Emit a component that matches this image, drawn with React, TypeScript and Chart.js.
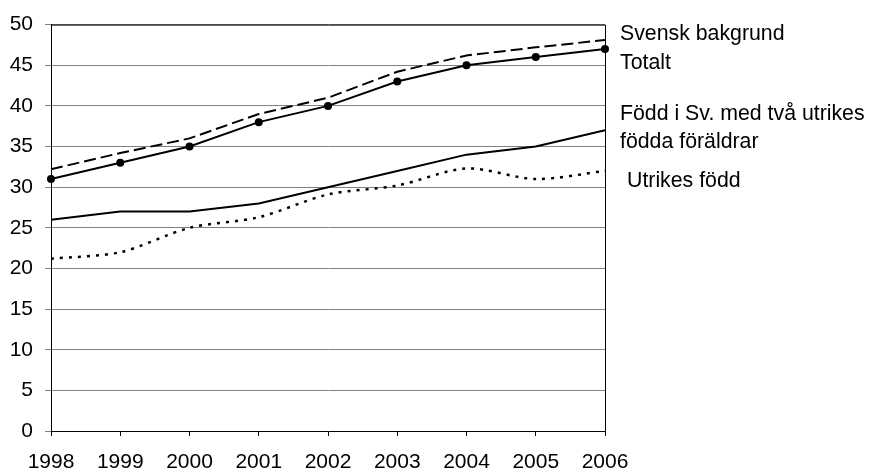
import React, { useEffect, useRef } from "react";
import { Chart, registerables } from "chart.js";

Chart.register(...registerables);

const years = ["1998", "1999", "2000", "2001", "2002", "2003", "2004", "2005", "2006"];
const svenskBakgrund = [32.2, 34.2, 36, 39, 41, 44.2, 46.2, 47.2, 48.1];
const totalt = [31, 33, 35, 38, 40, 43, 45, 46, 47];
const foddISv = [26, 27, 27, 28, 30, 32, 34, 35, 37];
const utrikesFodd = [21.2, 22, 25, 26.3, 29.1, 30.2, 32.3, 31, 32];

const rightLabels: { text: string; baseline: number; dx: number }[] = [
  { text: "Svensk bakgrund", baseline: 40, dx: 0 },
  { text: "Totalt", baseline: 69, dx: 0 },
  { text: "Född i Sv. med två utrikes", baseline: 120, dx: 0 },
  { text: "födda föräldrar", baseline: 148, dx: 0 },
  { text: "Utrikes född", baseline: 187, dx: 7 },
];

const FONT = "'Liberation Sans', Arial, sans-serif";

export default function App() {
  const ref = useRef<HTMLCanvasElement | null>(null);

  useEffect(() => {
    document.body.style.margin = "0";
    const canvas = ref.current;
    if (!canvas) return;

    const framePlugin = {
      id: "frame",
      afterDatasetsDraw(chart: any) {
        const { ctx, chartArea } = chart;
        ctx.save();
        ctx.strokeStyle = "#000";
        ctx.lineWidth = 1;
        ctx.beginPath();
        ctx.moveTo(chartArea.left, chartArea.top + 0.5);
        ctx.lineTo(chartArea.right + 0.5, chartArea.top + 0.5);
        ctx.lineTo(chartArea.right + 0.5, chartArea.bottom);
        ctx.stroke();
        ctx.fillStyle = "#000";
        ctx.font = `21.3px ${FONT}`;
        ctx.textBaseline = "alphabetic";
        ctx.textAlign = "left";
        for (const l of rightLabels) {
          ctx.fillText(l.text, chartArea.right + 15 + l.dx, l.baseline);
        }
        ctx.restore();
      },
    };

    const chart = new Chart(canvas, {
      type: "line",
      data: {
        labels: years,
        datasets: [
          {
            label: "Svensk bakgrund",
            data: svenskBakgrund,
            borderColor: "#000",
            borderWidth: 2,
            borderDash: [12, 5],
            pointRadius: 0,
            tension: 0,
          },
          {
            label: "Totalt",
            data: totalt,
            borderColor: "#000",
            backgroundColor: "#000",
            borderWidth: 2,
            pointRadius: 4,
            pointBackgroundColor: "#000",
            pointBorderWidth: 0,
            tension: 0,
          },
          {
            label: "Född i Sv. med två utrikes födda föräldrar",
            data: foddISv,
            borderColor: "#000",
            borderWidth: 2,
            pointRadius: 0,
            tension: 0,
          },
          {
            label: "Utrikes född",
            data: utrikesFodd,
            borderColor: "#000",
            borderWidth: 2.5,
            borderDash: [3, 6],
            pointRadius: 0,
            tension: 0.3,
          },
        ],
      },
      options: {
        animation: false,
        responsive: false,
        maintainAspectRatio: false,
        layout: { padding: { top: 23, right: 264, left: 0, bottom: 0 } },
        plugins: { legend: { display: false }, tooltip: { enabled: false } },
        scales: {
          x: {
            offset: false,
            afterFit: (s: any) => {
              s.height = 41;
            },
            grid: {
              display: true,
              drawOnChartArea: false,
              drawTicks: true,
              tickLength: 5,
              color: "#000",
            },
            border: { color: "#000", width: 1 },
            ticks: {
              color: "#000",
              font: { family: FONT, size: 21 },
              padding: 14,
              maxRotation: 0,
              autoSkip: false,
            },
          },
          y: {
            min: 0,
            max: 50,
            afterFit: (s: any) => {
              s.width = 51;
            },
            grid: {
              color: "#808080",
              drawTicks: true,
              tickLength: 6,
              lineWidth: 1,
            },
            border: { color: "#000", width: 1 },
            ticks: {
              stepSize: 5,
              color: "#000",
              font: { family: FONT, size: 21 },
              padding: 12,
            },
          },
        },
      },
      plugins: [framePlugin],
    });

    return () => chart.destroy();
  }, []);

  return (
    <div style={{ position: "relative", width: 869, height: 472, background: "#fff" }}>
      <canvas ref={ref} width={869} height={472} style={{ display: "block" }} />
    </div>
  );
}
